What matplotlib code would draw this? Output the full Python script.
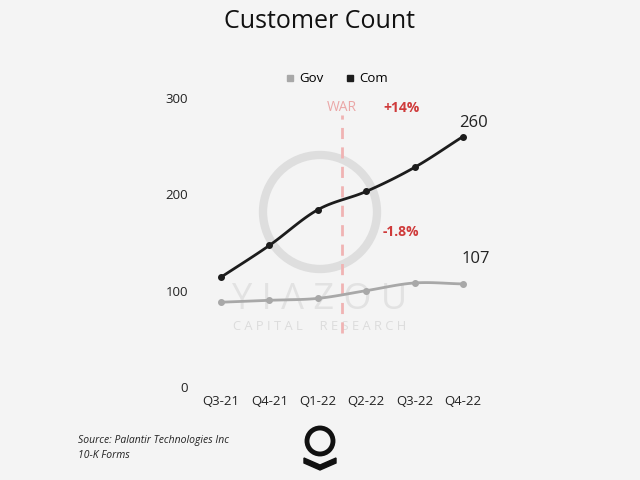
import numpy as np
import matplotlib
matplotlib.use("Agg")
import matplotlib.pyplot as plt
from matplotlib.patches import Ellipse, Polygon

# data
quarters = ["Q3-21", "Q4-21", "Q1-22", "Q2-22", "Q3-22", "Q4-22"]
com = [114, 147, 184, 203, 228, 260]
gov = [88, 90, 92, 100, 108, 107]
war_pos = 2.5
com_growth = "+14%"
gov_growth = "-1.8%"

plt.rcParams['font.family'] = ['Open Sans', 'DejaVu Sans']

bg = "#f4f4f4"
com_col = "#1c1c1c"
gov_col = "#a8a8a8"
red = "#cf3a3a"


def smooth(x, y, n=20):
    # cubic hermite through the points, for drawing only
    x = np.asarray(x, float)
    y = np.asarray(y, float)
    m = np.gradient(y, x)
    xs, ys = [], []
    for i in range(len(x) - 1):
        t = np.linspace(0, 1, n)
        h = x[i + 1] - x[i]
        h00 = 2*t**3 - 3*t**2 + 1
        h10 = t**3 - 2*t**2 + t
        h01 = -2*t**3 + 3*t**2
        h11 = t**3 - t**2
        xs.append(x[i] + t*h)
        ys.append(h00*y[i] + h10*h*m[i] + h01*y[i+1] + h11*h*m[i+1])
    return np.concatenate(xs), np.concatenate(ys)


def px_circle(cx, cy, r, **kw):
    # circle given in pixels, drawn in figure coords
    return Ellipse((cx/640, 1 - cy/480), 2*r/640, 2*r/480,
                   transform=fig.transFigure, **kw)


fig = plt.figure(figsize=(6.4, 4.8), dpi=100, facecolor=bg)
ax = fig.add_axes([195/640, 1 - 387/480, 285/640, (387 - 98)/480])
ax.patch.set_visible(False)
x = np.arange(len(quarters))
ax.set_xlim((195 - 221)/48.4, (480 - 221)/48.4)
ax.set_ylim(0, 300)

# watermark, behind the axes
wm = "#dedede"
fig.patches.append(px_circle(320, 212, 57, fill=False, ec=wm, lw=6, zorder=-1))
fig.text(320/640, 1 - 300/480, "Y I A Z O U", ha="center", va="center",
         fontsize=26, color="#e2e2e2", zorder=-1)
fig.text(320/640, 1 - 326/480, "C A P I T A L     R E S E A R C H", ha="center",
         va="center", fontsize=9.3, color="#dcdcdc", zorder=-1)

sx, sy = smooth(x, gov)
ax.plot(sx, sy, color=gov_col, lw=2, zorder=3)
ax.scatter(x, gov, color=gov_col, s=16, zorder=4)
sx, sy = smooth(x, com)
ax.plot(sx, sy, color=com_col, lw=2, zorder=3)
ax.scatter(x, com, color=com_col, s=16, zorder=4)

ax.plot([war_pos, war_pos], [56, 282], color="#f0b3b3", lw=2, ls=(0, (4, 3)), zorder=2)
ax.text(war_pos, 290, "WAR", color="#eba7a7", fontsize=10, ha="center", va="center")
ax.text(3.72, 290, com_growth, color=red, fontsize=10, fontweight="bold",
        ha="center", va="center")
ax.text(3.72, 161, gov_growth, color=red, fontsize=10, fontweight="bold",
        ha="center", va="center")
ax.text(x[-1] + 0.22, com[-1] + 14, str(com[-1]), fontsize=12, ha="center",
        va="center", color="#222222")
ax.text(x[-1] + 0.27, gov[-1] + 26, str(gov[-1]), fontsize=12, ha="center",
        va="center", color="#222222")

ax.set_xticks(x)
ax.set_xticklabels(quarters)
ax.set_yticks([0, 100, 200, 300])
ax.tick_params(length=0, labelsize=9.5, colors="#222222")
ax.tick_params(axis="y", pad=5)
ax.tick_params(axis="x", pad=6)
for s in ax.spines.values():
    s.set_visible(False)

# legend
ax.legend(handles=[
    plt.Line2D([], [], marker="s", ls="", color=gov_col, markersize=5, label="Gov"),
    plt.Line2D([], [], marker="s", ls="", color=com_col, markersize=5, label="Com")],
    loc="center", bbox_to_anchor=(336/640, 1 - 79/480), bbox_transform=fig.transFigure,
    ncol=2, frameon=False, fontsize=9.5, handletextpad=0.2, columnspacing=1.5,
    handlelength=1)

fig.text(0.5, 1 - 22/480, "Customer Count", ha="center", va="center", fontsize=18,
         color="#111111")
fig.text(78/640, 1 - 441/480, "Source: Palantir Technologies Inc", fontsize=7.5,
         style="italic", va="center", color="#222222")
fig.text(78/640, 1 - 455/480, "10-K Forms", fontsize=7.5, style="italic",
         va="center", color="#222222")

# palantir logo
fig.patches.append(px_circle(320, 441, 13, fill=False, ec="#111111", lw=3.5))
chev = [(304, 458), (320, 465), (336, 458), (336, 463), (320, 470), (304, 463)]
fig.patches.append(Polygon([(a/640, 1 - b/480) for a, b in chev],
                           transform=fig.transFigure, color="#111111"))

fig.savefig("out.png", dpi=100, facecolor=bg)
